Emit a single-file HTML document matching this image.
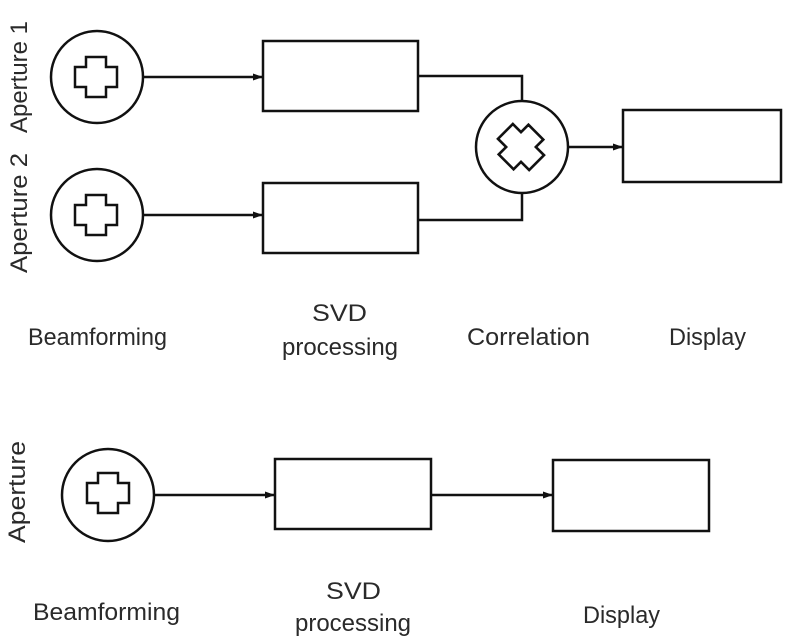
<!DOCTYPE html>
<html><head><style>html,body{margin:0;padding:0;background:#fff;}svg{display:block}</style></head>
<body>
<svg width="800" height="638" viewBox="0 0 800 638" xmlns="http://www.w3.org/2000/svg">
<defs>
<marker id="a" markerWidth="10" markerHeight="10" refX="9" refY="5" orient="auto" markerUnits="userSpaceOnUse">
<path d="M0,1.5 L10,5 L0,8.5 z" fill="#111"/></marker>
<path id="plus" d="M-10,-20 H10 V-10 H21 V10 H10 V20 H-10 V10 H-21 V-10 H-10 Z" fill="none" stroke="#111" stroke-width="2.5"/>
</defs>
<g fill="none" stroke="#111" stroke-width="2.5">
<circle cx="97" cy="77" r="46"/>
<circle cx="97" cy="215" r="46"/>
<rect x="263" y="41" width="155" height="70"/>
<rect x="263" y="183" width="155" height="70"/>
<circle cx="522" cy="147" r="46"/>
<rect x="623" y="110" width="158" height="72"/>
<line x1="143" y1="77" x2="262" y2="77" marker-end="url(#a)"/>
<line x1="143" y1="215" x2="262" y2="215" marker-end="url(#a)"/>
<polyline points="418,76 522,76 522,101"/>
<polyline points="418,220 522,220 522,193"/>
<line x1="568" y1="147" x2="622" y2="147" marker-end="url(#a)"/>
<circle cx="108" cy="495" r="46"/>
<rect x="275" y="459" width="156" height="70"/>
<rect x="553" y="460" width="156" height="71"/>
<line x1="154" y1="495" x2="274" y2="495" marker-end="url(#a)"/>
<line x1="431" y1="495" x2="552" y2="495" marker-end="url(#a)"/>
</g>
<use href="#plus" transform="translate(96,77)"/>
<use href="#plus" transform="translate(96,215)"/>
<use href="#plus" transform="translate(108,493)"/>
<use href="#plus" transform="translate(521,147) rotate(45) scale(1.05)"/>
<g font-family="Liberation Sans, sans-serif" font-size="24" fill="#2a2a2a">
<text x="28" y="345" textLength="139" lengthAdjust="spacingAndGlyphs">Beamforming</text>
<text x="312" y="321" textLength="55" lengthAdjust="spacingAndGlyphs">SVD</text>
<text x="282" y="355" textLength="116" lengthAdjust="spacingAndGlyphs">processing</text>
<text x="467" y="345" textLength="123" lengthAdjust="spacingAndGlyphs">Correlation</text>
<text x="669" y="345" textLength="77" lengthAdjust="spacingAndGlyphs">Display</text>
<text x="33" y="620" textLength="147" lengthAdjust="spacingAndGlyphs">Beamforming</text>
<text x="326" y="599" textLength="55" lengthAdjust="spacingAndGlyphs">SVD</text>
<text x="295" y="631" textLength="116" lengthAdjust="spacingAndGlyphs">processing</text>
<text x="583" y="623" textLength="77" lengthAdjust="spacingAndGlyphs">Display</text>
<text transform="translate(27,133) rotate(-90)" textLength="112" lengthAdjust="spacingAndGlyphs">Aperture 1</text>
<text transform="translate(27,273) rotate(-90)" textLength="120" lengthAdjust="spacingAndGlyphs">Aperture 2</text>
<text transform="translate(25,543) rotate(-90)" textLength="102" lengthAdjust="spacingAndGlyphs">Aperture</text>
</g>
</svg>
</body></html>
